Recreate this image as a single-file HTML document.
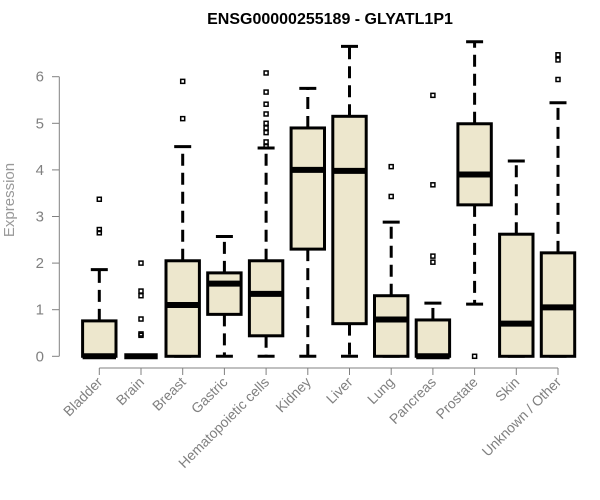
<!DOCTYPE html>
<html><head><meta charset="utf-8"><style>body{margin:0;background:#fff}svg{display:block}</style></head>
<body>
<svg id="chart" width="600" height="500" xmlns="http://www.w3.org/2000/svg" font-family="Liberation Sans, sans-serif">
<text x="330" y="24" text-anchor="middle" font-weight="bold" font-size="16" fill="#000">ENSG00000255189 - GLYATL1P1</text>
<text transform="translate(14,200) rotate(-90)" text-anchor="middle" font-size="15" fill="#999">Expression</text>
<g id="plot"></g>
</svg>
<script>
const categories=["Bladder","Brain","Breast","Gastric","Hematopoietic cells","Kidney","Liver","Lung","Pancreas","Prostate","Skin","Unknown / Other"];
const q1=[0,0,0,0.9,0.44,2.3,0.7,0,0,3.25,0,0];
const med=[0,0,1.1,1.56,1.34,4.0,3.98,0.79,0,3.9,0.7,1.05];
const q3=[0.76,0,2.05,1.79,2.05,4.9,5.15,1.3,0.78,4.99,2.62,2.22];
const wlo=[0,0,0,0,0,0,0,0,0,1.12,0,0];
const whi=[1.86,0,4.5,2.57,4.47,5.75,6.65,2.88,1.14,6.75,4.19,5.44];
const outliers=[[3.37,2.72,2.65],[2.0,1.4,1.3,0.8,0.48,0.45],[5.9,5.1],[],[6.08,5.67,5.41,5.2,5.0,4.9,4.8,4.6,4.5],[],[],[4.07,3.43],[5.6,3.68,2.15,2.02],[0],[],[6.47,6.36,5.94]];
const yTicks=[0,1,2,3,4,5,6];
const NS="http://www.w3.org/2000/svg";
const g=document.getElementById('plot');
const y=v=>356.3-v*46.6;
const x=i=>99.3+i*41.7;
const hw=16.7;
function mk(t,a,p){const e=document.createElementNS(NS,t);for(const k in a)e.setAttribute(k,a[k]);(p||g).appendChild(e);return e;}
// y axis
let ya=mk('line',{x1:59.3,x2:59.3,y1:y(0),y2:y(6),stroke:'#808080'});


yTicks.forEach(t=>{
 let l=mk('line',{x1:52,x2:59.3,y1:y(t),y2:y(t),stroke:'#808080'});
 
 
 let tx=mk('text',{x:44,y:y(t)+5,'text-anchor':'end','font-size':15,fill:'#808080'});
 tx.textContent=t;
 
 
});
// x axis
let xa=mk('line',{x1:x(0),x2:x(categories.length-1),y1:368,y2:368,stroke:'#808080'});


categories.forEach((c,i)=>{
 const cx=x(i);
 let t=mk('line',{x1:cx,x2:cx,y1:368,y2:375,stroke:'#808080'});
 
 
 let lb=mk('text',{transform:`translate(${cx+4},${383}) rotate(-45)`,'text-anchor':'end','font-size':14,fill:'#808080'});
 lb.textContent=c;
 
 
 const bg=mk('g',{});
 
 
 if(whi[i]>q3[i]){mk('line',{x1:cx,x2:cx,y1:y(q3[i]),y2:y(whi[i]),stroke:'#000','stroke-width':3,'stroke-dasharray':'12,7'},bg);}
 if(wlo[i]<q1[i]){mk('line',{x1:cx,x2:cx,y1:y(q1[i]),y2:y(wlo[i]),stroke:'#000','stroke-width':3,'stroke-dasharray':'12,7'},bg);}
 mk('line',{x1:cx-8.5,x2:cx+8.5,y1:y(whi[i]),y2:y(whi[i]),stroke:'#000','stroke-width':3},bg);
 mk('line',{x1:cx-8.5,x2:cx+8.5,y1:y(wlo[i]),y2:y(wlo[i]),stroke:'#000','stroke-width':3},bg);
 mk('rect',{x:cx-hw,y:y(q3[i]),width:hw*2,height:Math.max(0,y(q1[i])-y(q3[i])),fill:'#ede7cd',stroke:'#000','stroke-width':3},bg);
 mk('line',{x1:cx-hw,x2:cx+hw,y1:y(med[i]),y2:y(med[i]),stroke:'#000','stroke-width':6},bg);
 outliers[i].forEach(o=>{
  let p=mk('rect',{x:cx-2,y:y(o)-2,width:4,height:4,fill:'none',stroke:'#000','stroke-width':1.5},bg);
  
  
 });
});
</script>
</body></html>
